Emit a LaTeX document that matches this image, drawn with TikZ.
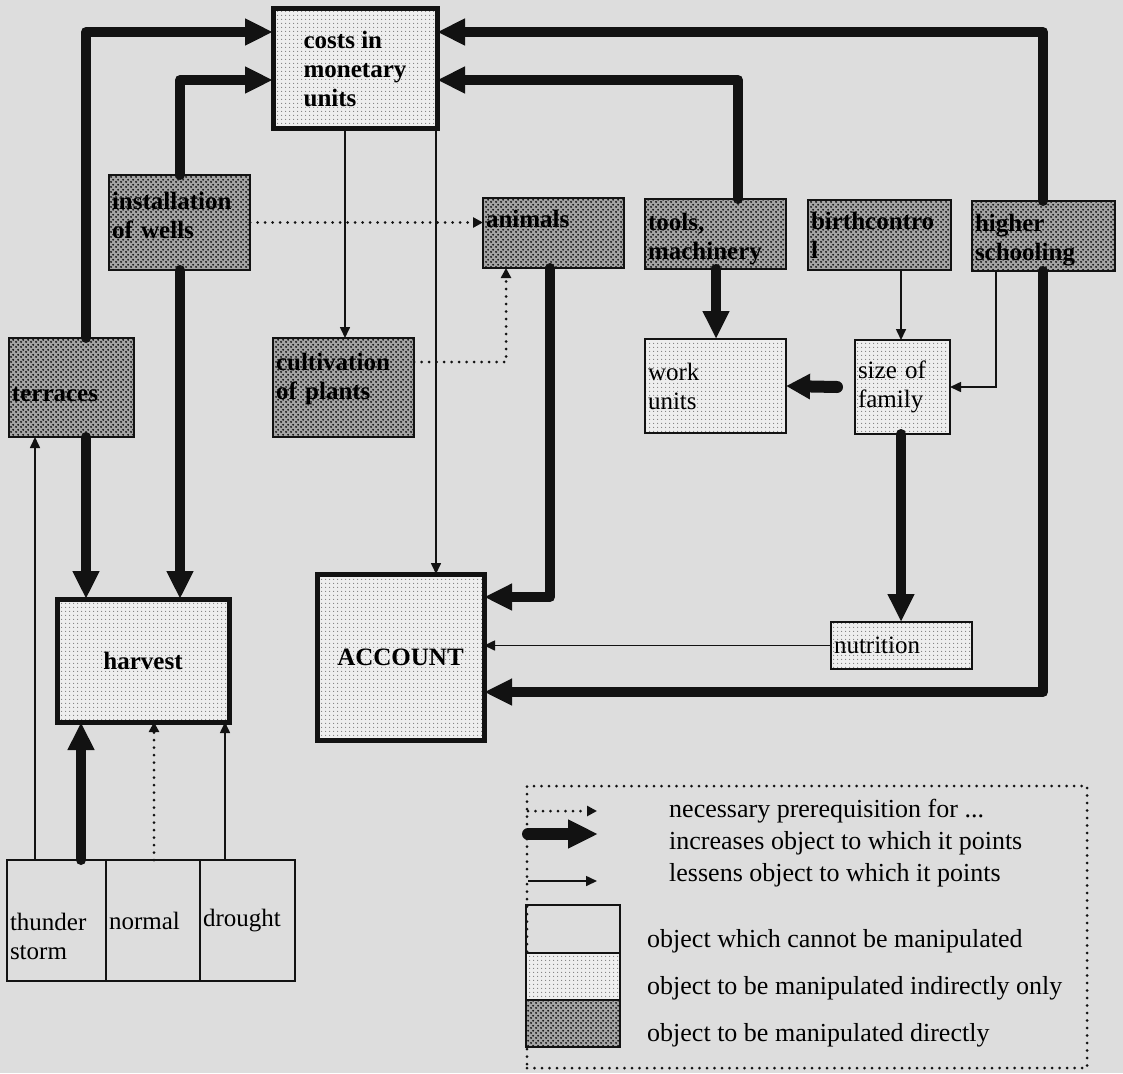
\documentclass[tikz,border=0pt]{standalone}
\usepackage{fontspec}
\setmainfont{Liberation Serif}
\usetikzlibrary{arrows.meta,calc,patterns}

% halftone screens for the two kinds of manipulable objects
\pgfdeclarepatternformonly{darkdots}{\pgfpointorigin}{\pgfpoint{5pt}{5pt}}{\pgfpoint{5pt}{5pt}}{%
  \pgfpathcircle{\pgfpoint{1.25pt}{1.25pt}}{1.2pt}%
  \pgfpathcircle{\pgfpoint{3.75pt}{3.75pt}}{1.2pt}%
  \pgfusepath{fill}}
\pgfdeclarepatternformonly{lightdots}{\pgfpointorigin}{\pgfpoint{4pt}{4pt}}{\pgfpoint{4pt}{4pt}}{%
  \pgfpathcircle{\pgfpoint{2pt}{2pt}}{0.7pt}%
  \pgfusepath{fill}}

\definecolor{paper}{RGB}{221,221,221}
\definecolor{ink}{RGB}{18,18,18}
\definecolor{darkfill}{RGB}{165,165,165}
\definecolor{lightfill}{RGB}{238,238,238}
\definecolor{dotgray}{RGB}{125,125,125}

\tikzset{
  txt/.style={font=\fontsize{25}{29}\selectfont},
  boxbase/.style={draw=ink, outer sep=0pt, inner sep=3pt, anchor=north west, txt},
  plainbox/.style={boxbase, line width=2pt},
  direct/.style={boxbase, line width=2pt, align=left,
    preaction={fill=darkfill}, pattern=darkdots, pattern color=ink,
    font=\fontsize{25}{29}\selectfont\bfseries},
  indirect/.style={boxbase, line width=2.5pt, align=left,
    preaction={fill=lightfill}, pattern=lightdots, pattern color=dotgray},
  keybox/.style={indirect, line width=5pt, font=\fontsize{25}{29}\selectfont\bfseries},
  inc/.style={draw=ink, line width=10pt, line cap=round, line join=round,
    -{Triangle[length=28pt,width=25pt]}},
  dec/.style={draw=ink, line width=1.6pt, -{Triangle[length=11pt,width=10pt]}},
  prereq/.style={draw=ink, line width=3pt, line cap=round, dash pattern=on 0pt off 7.5pt,
    -{Triangle[length=10pt,width=10pt]}},
  legtxt/.style={anchor=west, inner sep=0pt, font=\fontsize{26}{30}\selectfont}
}

\begin{document}
\begin{tikzpicture}[x=1pt,y=-1pt]
\useasboundingbox (0,0) rectangle (1123,1073);
\fill[paper] (0,0) rectangle (1123,1073);

% ---- objects ----
\node[keybox, minimum width=164pt, minimum height=119pt] (costs) at (273,9) {costs in\\monetary\\units};

\node[direct, minimum width=141pt, minimum height=95pt, text width=135pt, text depth=43pt] (wells) at (109,175) {installation\\of wells};
\node[direct, minimum width=141pt, minimum height=70pt, text width=135pt, text depth=28pt] (anim) at (483,198) {animals};
\node[direct, minimum width=141pt, minimum height=70pt, text width=135pt, text depth=25pt] (tools) at (645,199) {tools,\\machinery};
\node[direct, minimum width=143pt, minimum height=70pt, text width=137pt] (birth) at (808,200) {birthcontro\\l};
\node[direct, minimum width=143pt, minimum height=70pt, text width=137pt, text depth=27pt] (school) at (972,201) {higher\\schooling};

\node[direct, minimum width=125pt, minimum height=99pt, text width=119pt] (terr) at (9,338) {\\terraces};
\node[direct, minimum width=141pt, minimum height=99pt, text width=135pt, text depth=52pt] (cult) at (273,338) {cultivation\\of plants};

\node[indirect, minimum width=141pt, minimum height=94pt, text width=135pt] (work) at (645,339) {work\\units};
\node[indirect, minimum width=95pt, minimum height=94pt, text width=89pt] (sof) at (855,340) {size of\\family};

\node[keybox, minimum width=172pt, minimum height=123pt] (harv) at (57,599) {harvest};
\node[keybox, minimum width=167pt, minimum height=166pt] (acct) at (317,574) {ACCOUNT};
\node[indirect, minimum width=141pt, minimum height=47pt, text width=135pt] (nutr) at (831,622) {nutrition};

% weather conditions
\node[plainbox, minimum width=99pt, minimum height=121pt, text width=93pt, align=left] (storm) at (7,860) {\strut\\thunder\\storm};
\node[plainbox, minimum width=94pt, minimum height=121pt, text width=88pt, align=left] (normal) at (106,860) {normal};
\node[plainbox, minimum width=95pt, minimum height=121pt, text width=89pt, align=left] (drought) at (200,860) {drought};

% ---- influences that increase ----
\draw[inc] ($(terr.north west)+(77,0)$) |- ($(costs.north west)+(0,23)$);
\draw[inc] ($(wells.north west)+(71,0)$) |- ($(costs.north west)+(0,71)$);
\draw[inc] ($(school.north west)+(71,0)$) |- ($(costs.north east)+(0,23)$);
\draw[inc] ($(tools.north west)+(93,0)$) |- ($(costs.north east)+(0,71)$);
\draw[inc] ($(tools.south west)+(71,0)$) -- ($(work.north west)+(71,0)$);
\draw[inc, line width=12pt, -{Triangle[length=24pt,width=24pt]}] ($(sof.west)+(-18,0)$) -- (work.east);
\draw[inc] ($(sof.south west)+(46,0)$) -- ($(nutr.north west)+(70,0)$);
\draw[inc] ($(terr.south west)+(77,0)$) -- ($(harv.north west)+(29,0)$);
\draw[inc] ($(wells.south west)+(71,0)$) -- ($(harv.north west)+(123,0)$);
\draw[inc] ($(storm.north west)+(74,0)$) -- ($(harv.south west)+(24,0)$);
\draw[inc] ($(anim.south west)+(67,0)$) |- ($(acct.north east)+(0,23)$);
\draw[inc] ($(school.south west)+(71,0)$) |- ($(acct.north east)+(0,118)$);

% ---- influences that lessen ----
\draw[dec] ($(costs.south west)+(72,0)$) -- ($(cult.north west)+(72,0)$);
\draw[dec] ($(costs.south west)+(163,0)$) -- ($(acct.north west)+(119,0)$);
\draw[dec] ($(birth.south west)+(93,0)$) -- ($(sof.north west)+(46,0)$);
\draw[dec] ($(school.south west)+(24,0)$) |- (sof.east);
\draw[dec] (nutr.west) -- (nutr.west -| acct.east);
\draw[dec] ($(storm.north west)+(28,0)$) -- ($(terr.south west)+(26,0)$);
\draw[dec] ($(drought.north west)+(25,0)$) -- ($(harv.south west)+(168,0)$);

% ---- prerequisites ----
\draw[prereq] (wells.east) -- (wells.east -| anim.west);
\draw[prereq] ($(cult.north east)+(0,24)$) -| ($(anim.south west)+(23,0)$);
\draw[prereq] ($(normal.north west)+(48,0)$) -- ($(harv.south west)+(97,0)$);

% ---- key ----
\node[draw=ink, line width=3pt, line cap=round, dash pattern=on 0pt off 7.5pt,
      outer sep=0pt, anchor=north west, minimum width=560pt, minimum height=282pt] (leg) at (527,786) {};

\coordinate (k1a) at (528,811);  \coordinate (k1b) at (597,811);
\coordinate (k2a) at (528,834);  \coordinate (k2b) at (598,834);
\coordinate (k3a) at (528,881);  \coordinate (k3b) at (597,881);
\draw[prereq] (k1a) -- (k1b);
\draw[inc, line width=12pt, -{Triangle[length=30pt,width=27pt]}] (k2a) -- (k2b);
\draw[dec] (k3a) -- (k3b);

\node[legtxt] (t1) at (669,811) {necessary prerequisition for ...};
\node[legtxt] (t2) at (669,843) {increases object to which it points};
\node[legtxt] (t3) at (669,875) {lessens object to which it points};

\node[boxbase, line width=2.5pt, minimum width=94pt, minimum height=48pt] (s1) at (526,905) {};
\node[indirect, minimum width=94pt, minimum height=47pt] (s2) at (526,953) {};
\node[direct, line width=2.5pt, minimum width=94pt, minimum height=47pt] (s3) at (526,1000) {};

\node[legtxt] (t4) at (647,941) {object which cannot be manipulated};
\node[legtxt] (t5) at (647,988) {object to be manipulated indirectly only};
\node[legtxt] (t6) at (647,1035) {object to be manipulated directly};
\end{tikzpicture}
\end{document}
